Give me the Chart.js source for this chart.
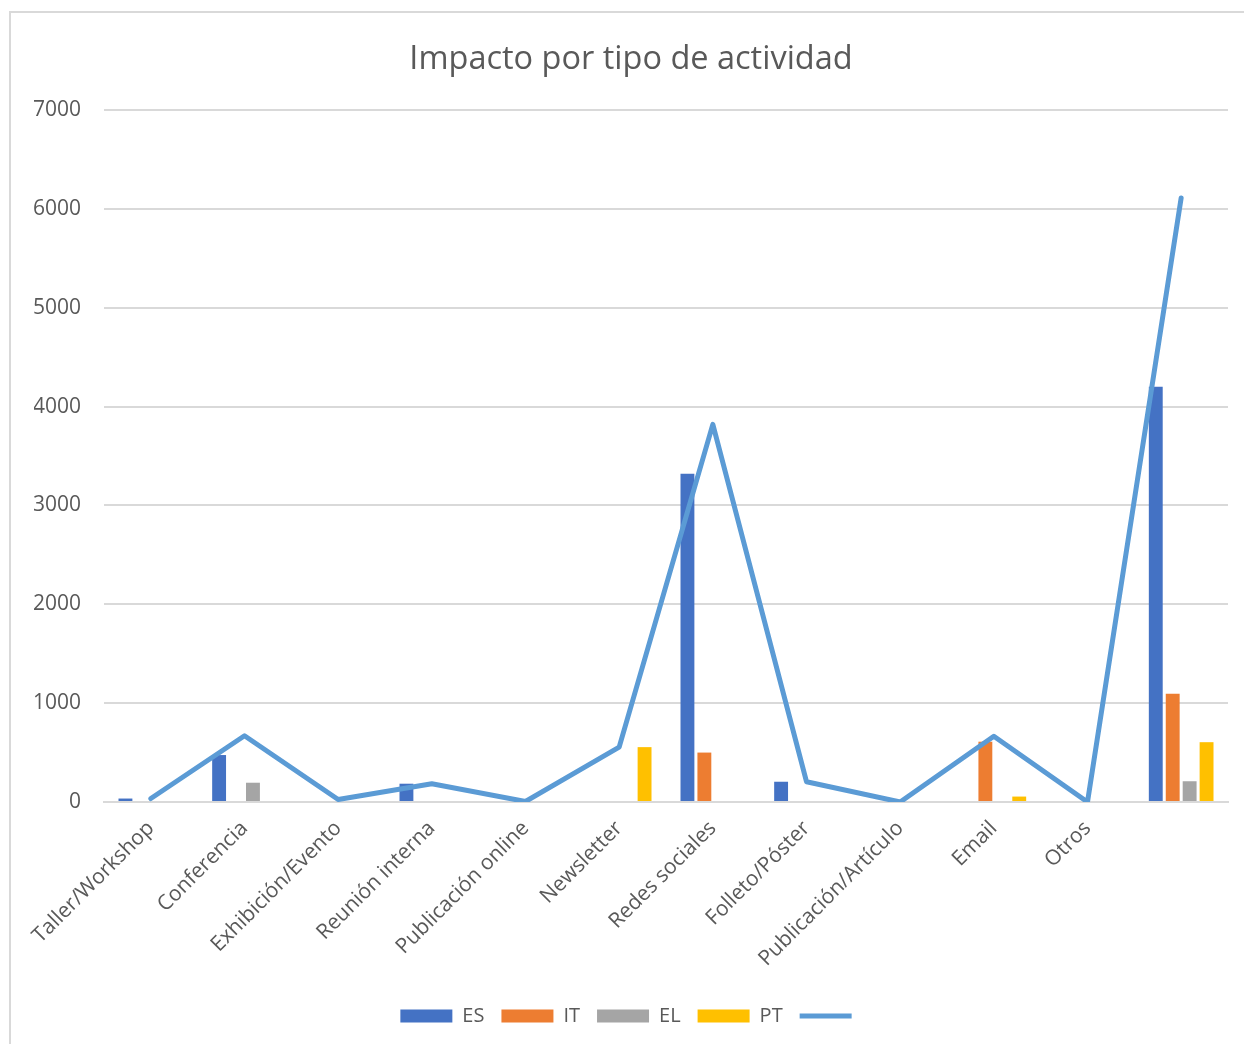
<!DOCTYPE html>
<html>
<head>
<meta charset="utf-8">
<script src="https://cdn.jsdelivr.net/npm/chart.js@4"></script>
<style>
  html, body { margin: 0; padding: 0; background: #fff; overflow: hidden; }
  #frame { position: absolute; left: 9px; top: 11px; width: 1300px; height: 1100px; border: 2px solid #d9d9d9; box-sizing: border-box; }
  #wrap { position: absolute; left: 0; top: 0; width: 1244px; height: 1044px; }
</style>
</head>
<body>
<div id="frame"></div>
<div id="wrap"><canvas id="impactChart" width="1244" height="1044"></canvas></div>
<script>
// === DATA ===
const categories = ['Taller/Workshop', 'Conferencia', 'Exhibición/Evento', 'Reunión interna', 'Publicación online',
  'Newsletter', 'Redes sociales', 'Folleto/Póster', 'Publicación/Artículo', 'Email', 'Otros', ''];
const esValues = [35, 475, null, 185, null, null, 3320, 205, null, null, null, 4200];
const itValues = [null, null, null, null, null, null, 500, null, null, 610, null, 1095];
const elValues = [null, 195, null, null, null, null, null, null, null, null, null, 210];
const ptValues = [null, null, null, null, null, 555, null, null, null, 55, null, 605];
const totalValues = [35, 670, 25, 185, 5, 555, 3820, 205, 0, 665, 0, 6110];
const yMax = 7000;
const yStep = 1000;

const textColor = '#595959';
const gridColor = '#d9d9d9';
const fontFamily = '"Open Sans", "Noto Sans", sans-serif';

document.addEventListener('DOMContentLoaded', () => {
  const el = document.getElementById('impactChart');
  if (!el) return;

  const bar = (label, data, color) => ({
    type: 'bar', label, data, backgroundColor: color, borderWidth: 0,
    categoryPercentage: 0.723, barPercentage: 0.82, order: 1
  });

  new Chart(el.getContext('2d'), {
    data: {
      labels: categories,
      datasets: [
        bar('ES', esValues, '#4472C4'),
        bar('IT', itValues, '#ED7D31'),
        bar('EL', elValues, '#A5A5A5'),
        bar('PT', ptValues, '#FFC000'),
        {
          type: 'line', label: '', data: totalValues,
          borderColor: '#5B9BD5', backgroundColor: '#5B9BD5',
          borderWidth: 5, borderCapStyle: 'round', borderJoinStyle: 'round',
          pointRadius: 0, pointHoverRadius: 0, tension: 0, fill: false, order: 0
        }
      ]
    },
    options: {
      responsive: false,
      animation: false,
      layout: { padding: { left: 34, right: 16, top: 0, bottom: 8 } },
      plugins: {
        tooltip: { enabled: false },
        title: {
          display: true,
          text: 'Impacto por tipo de actividad',
          color: textColor,
          font: { family: fontFamily, size: 32.5, weight: 'normal' },
          padding: { top: 40, bottom: 31 }
        },
        legend: {
          position: 'bottom',
          labels: {
            color: textColor,
            font: { family: fontFamily, size: 20 },
            usePointStyle: true,
            pointStyleWidth: 52,
            boxHeight: 13,
            padding: 17,
            generateLabels: chart => {
              const items = Chart.defaults.plugins.legend.labels.generateLabels(chart);
              items.forEach(it => {
                it.pointStyle = chart.data.datasets[it.datasetIndex].type === 'line' ? 'line' : 'rect';
              });
              return items.sort((a, b) => a.datasetIndex - b.datasetIndex);
            }
          }
        }
      },
      scales: {
        x: {
          grid: { display: false },
          border: { color: gridColor, width: 2 },
          ticks: {
            color: textColor,
            font: { family: fontFamily, size: 21 },
            autoSkip: false,
            maxRotation: 45,
            minRotation: 45,
            padding: 6
          },
          afterFit: scale => { scale.height = 187; }
        },
        y: {
          min: 0,
          max: yMax,
          border: { display: false },
          grid: { color: gridColor, lineWidth: 2, drawTicks: false },
          ticks: {
            stepSize: yStep,
            color: textColor,
            font: { family: fontFamily, size: 21 },
            padding: 23,
            callback: v => String(v)
          },
          afterFit: scale => { scale.width = 70; }
        }
      }
    }
  });
});
</script>
</body>
</html>
